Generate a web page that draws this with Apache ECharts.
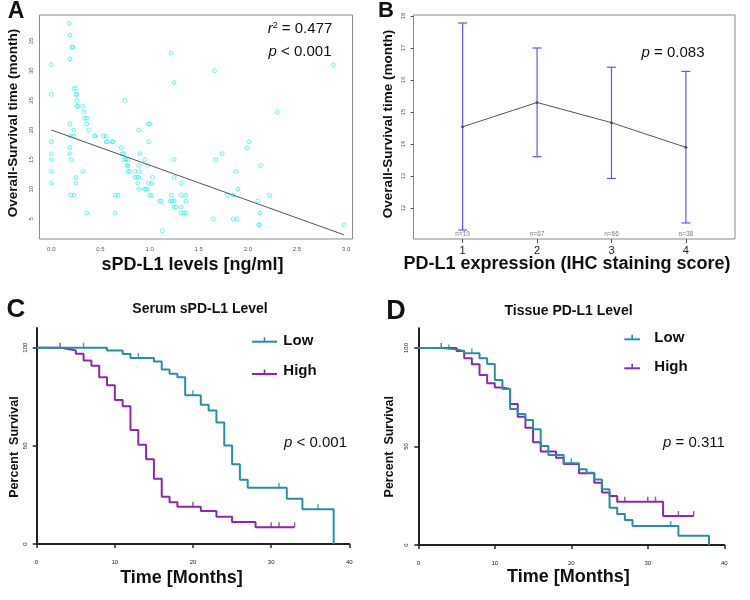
<!DOCTYPE html>
<html>
<head>
<meta charset="utf-8">
<script src="https://cdn.jsdelivr.net/npm/echarts@6/dist/echarts.min.js"></script>
<style>html,body{margin:0;padding:0;background:#fff}#c{width:750px;height:600px}</style>
</head>
<body>
<div id="c"></div>
<script>
// ---------- Panel A data ----------
const sPDL1 = [0,0,0,0,0,0,0,
 0.18,0.19,0.21,0.22,0.19,0.19,0.19,0.19,0.19,0.2,
 0.23,0.23,0.23,0.25,0.25,0.26,0.26,0.26,0.27,0.25,0.25,0.2,0.23,
 0.32,0.33,0.34,0.36,0.36,0.38,0.32,0.36,
 0.44,0.45,0.53,0.56,0.56,0.57,0.62,0.63,
 0.75,0.71,0.72,0.74,0.74,0.76,0.78,0.77,0.78,0.78,0.8,0.85,0.89,0.85,0.87,0.89,0.89,0.89,0.9,0.95,0.88,0.89,0.95,0.96,0.98,0.99,1.0,0.99,0.98,0.99,1.02,1.03,1.0,1.02,0.65,0.68,0.65,
 1.1,1.12,1.13,
 1.22,1.25,1.25,1.25,1.22,1.21,1.23,1.25,1.25,1.27,1.32,1.32,1.37,1.32,1.32,1.35,1.37,1.37,
 1.66,1.67,1.65,1.74,1.79,1.85,1.88,1.9,1.85,1.89,1.99,2.01,2.1,2.12,2.11,2.12,2.13,2.22,2.3,2.87,2.98];
const osMonths = [31,26,18,16,15,13,11,
 38,36,34,34,32,21,19,17,16,15,
 20,19,27,27,26,26,25,24,24,12,11,9,9,
 24,23,22,22,21,20,13,6,
 19,19,19,19,18,18,18,18,
 25,17,16,16,15,15,15,14,14,13,13,13,13,12,12,12,14,20,16,15,11,10,10,10,10,21,21,18,14,11,11,12,9,9,9,9,6,
 8,8,3,
 33,28,15,12,9,8,8,8,7,7,11,9,9,7,6,6,6,8,
 30,15,5,16,9,9,13,10,5,5,17,18,8,6,4,4,14,9,23,31,4];
const fitLine = [[0, 20.0], [2.98, 2.3]];
const xTicksA = [0, 0.5, 1.0, 1.5, 2.0, 2.5, 3.0];
const yTicksA = [5, 10, 15, 20, 25, 30, 35];

// ---------- Panel B data ----------
const ihcScore = [1, 2, 3, 4];
const meanOS = [14.54, 15.30, 14.67, 13.90];
const upperCI = [17.78, 17.00, 16.40, 16.27];
const lowerCI = [11.32, 13.61, 12.93, 11.54];
const nLabels = ['n=19', 'n=67', 'n=66', 'n=38'];
const yTicksB = [12, 13, 14, 15, 16, 17, 18];

// ---------- Panel C data (Serum sPD-L1) ----------
const cLow = [[0,100],[9,98.6],[11,96.8],[12,94.7],[15,93.0],[16,88.9],[17,86.7],[18,84.9],[19,75.7],[21,70.9],[22,68.0],[23,61.9],[24,50.2],[25,40.6],[26,32.7],[27,28.7],[32,23.0],[34,17.7],[38,0]];
const cLowCens = [[6,100],[13,94.7],[20,75.7],[31,28.7],[36,17.7]];
const cHigh = [[0,100],[3,99.3],[4,98.6],[5,96.9],[6,93.4],[7,90.8],[8,84.9],[9,80.8],[10,73.3],[11,70.2],[12,58.0],[13,50.5],[14,43.2],[15,33.2],[16,24.1],[17,21.3],[18,19.0],[21,16.8],[23,13.9],[25,11.2],[28,8.5],[33,8.5]];
const cHighCens = [[3,100],[20,19.0],[30,8.5],[31,8.5],[33,8.5]];

// ---------- Panel D data (Tissue PD-L1) ----------
const dLow = [[0,100],[3,99.3],[5,98.5],[6,97.3],[8,94.8],[9,91.9],[10,83.8],[11,79.2],[12,69.0],[13,66.5],[14,63.5],[15,58.7],[16,50.3],[17,45.7],[19,41.5],[21,38.4],[22,36.7],[23,33.3],[24,28.3],[25,18.9],[26,15.7],[27,12.7],[28,9.6],[34,4.7],[38,0]];
const dLowCens = [[4,99.3],[7,97.3],[20,41.5],[33,9.6]];
const dHigh = [[0,100],[5,98.5],[6,94.8],[7,91.7],[8,86.3],[9,82.1],[10,79.9],[11,79.2],[12,71.6],[13,65.1],[14,59.5],[15,52.1],[16,47.4],[18,44.3],[19,41.1],[21,36.4],[23,31.6],[24,26.6],[25,24.9],[26,22.0],[32,14.7],[36,14.7]];
const dHighCens = [[3,100],[27,22.0],[30,22.0],[31,22.0],[34,14.7],[36,14.7]];
const kmXTicks = [0, 10, 20, 30, 40];
const kmYTicks = [0, 50, 100];

const FONT = '"Liberation Sans", Arial, sans-serif';
const TEAL = '#2a8fa6';
const PURPLE = '#8c28ad';
const CYAN = '#2af0f0';
const BLUE = '#5a5aff';

const chart = echarts.init(document.getElementById('c'), null, {renderer: 'canvas'});

function txt(text, x, y, size, opts) {
  opts = opts || {};
  return {
    type: 'text', x: x, y: y, rotation: opts.rot || 0, z: 100,
    style: {
      text: text, fontFamily: FONT, fontSize: size, fontWeight: opts.bold ? 'bold' : 'normal',
      fill: opts.color || '#111', align: opts.align || 'center', verticalAlign: 'middle',
      rich: opts.rich
    }
  };
}
const pRich = {
  i: {fontStyle: 'italic', fontFamily: FONT, fontSize: 15, fill: '#111'},
  s: {fontFamily: FONT, fontSize: 9, verticalAlign: 'top', fill: '#111'},
  n: {fontFamily: FONT, fontSize: 15, fill: '#111'}
};
function legendItem(x1, x2, y, ty, tx, color, label) {
  const mid = (x1 + x2) / 2;
  return [
    {type: 'line', z: 100, shape: {x1: x1, y1: y, x2: x2, y2: y}, style: {stroke: color, lineWidth: 2}},
    {type: 'line', z: 100, shape: {x1: mid, y1: y, x2: mid, y2: y - 4.5}, style: {stroke: color, lineWidth: 1.6}},
    txt(label, tx, ty, 15, {bold: true, align: 'left'})
  ];
}

const tickLbl = {fontFamily: FONT, fontSize: 6, color: '#556'};

const option = {
  animation: false,
  backgroundColor: '#fff',
  grid: [
    {left: 39.5, top: 15, width: 313, height: 224, show: true, borderColor: '#8a8a8a', borderWidth: 1},
    {left: 413.5, top: 15, width: 321.5, height: 224, show: true, borderColor: '#8a8a8a', borderWidth: 1},
    {left: 36.7, top: 328, width: 312.6, height: 216},
    {left: 418.3, top: 328.3, width: 306, height: 216.7}
  ],
  xAxis: [
    {gridIndex: 0, type: 'value', min: -0.12, max: 3.065, axisLine: {show: false}, axisTick: {show: false}, splitLine: {show: false},
     axisLabel: Object.assign({customValues: xTicksA, margin: 7, formatter: v => v.toFixed(1)}, tickLbl)},
    {gridIndex: 1, type: 'value', min: 0.34, max: 4.66, axisLine: {show: false}, splitLine: {show: false},
     axisTick: {show: true, customValues: ihcScore, length: 4, lineStyle: {color: '#555', width: 1}},
     axisLabel: {customValues: ihcScore, margin: 6, fontFamily: FONT, fontSize: 11, color: '#222'}},
    {gridIndex: 2, type: 'value', min: 0, max: 40, interval: 10, splitLine: {show: false},
     axisLine: {show: true, lineStyle: {color: '#222', width: 2}},
     axisTick: {show: true, customValues: kmXTicks, length: 4, lineStyle: {color: '#222', width: 1.5}},
     axisLabel: {customValues: kmXTicks, margin: 15, fontFamily: FONT, fontSize: 6, color: '#222'}},
    {gridIndex: 3, type: 'value', min: 0, max: 40, interval: 10, splitLine: {show: false},
     axisLine: {show: true, lineStyle: {color: '#222', width: 2}},
     axisTick: {show: true, customValues: kmXTicks, length: 4, lineStyle: {color: '#222', width: 1.5}},
     axisLabel: {customValues: kmXTicks, margin: 15, fontFamily: FONT, fontSize: 6, color: '#222'}}
  ],
  yAxis: [
    {gridIndex: 0, type: 'value', min: 1.6, max: 39.4, axisLine: {show: false}, axisTick: {show: false}, splitLine: {show: false},
     axisLabel: Object.assign({customValues: yTicksA, margin: 5, rotate: 90}, tickLbl)},
    {gridIndex: 1, type: 'value', min: 11.04, max: 18.03, axisLine: {show: false}, splitLine: {show: false},
     axisTick: {show: true, customValues: yTicksB, length: 3, lineStyle: {color: '#555', width: 1}},
     axisLabel: Object.assign({customValues: yTicksB, margin: 7, rotate: 90}, tickLbl)},
    {gridIndex: 2, type: 'value', min: 0, max: 110, splitLine: {show: false},
     axisLine: {show: true, lineStyle: {color: '#222', width: 2}},
     axisTick: {show: true, customValues: kmYTicks, length: 4, lineStyle: {color: '#222', width: 1.5}},
     axisLabel: {customValues: kmYTicks, margin: 8, rotate: 90, fontFamily: FONT, fontSize: 6, color: '#222'}},
    {gridIndex: 3, type: 'value', min: 0, max: 110, splitLine: {show: false},
     axisLine: {show: true, lineStyle: {color: '#222', width: 2}},
     axisTick: {show: true, customValues: kmYTicks, length: 4, lineStyle: {color: '#222', width: 1.5}},
     axisLabel: {customValues: kmYTicks, margin: 9, rotate: 90, fontFamily: FONT, fontSize: 6, color: '#222'}}
  ],
  series: [
    // Panel A
    {type: 'scatter', xAxisIndex: 0, yAxisIndex: 0, symbol: 'circle', symbolSize: 3.8,
     itemStyle: {color: 'rgba(0,0,0,0)', borderColor: CYAN, borderWidth: 0.9},
     data: sPDL1.map((x, i) => [x, osMonths[i]])},
    {type: 'line', xAxisIndex: 0, yAxisIndex: 0, data: fitLine, showSymbol: false,
     lineStyle: {color: '#555', width: 1}},
    // Panel B
    {type: 'custom', xAxisIndex: 1, yAxisIndex: 1,
     data: ihcScore.map((g, i) => [g, lowerCI[i], upperCI[i]]),
     encode: {x: 0, y: [1, 2]},
     renderItem: function (params, api) {
       const x = api.value(0);
       const top = api.coord([x, api.value(2)]);
       const bot = api.coord([x, api.value(1)]);
       const w = 4.5, st = {stroke: BLUE, lineWidth: 1.2};
       return {type: 'group', children: [
         {type: 'line', shape: {x1: top[0], y1: top[1], x2: bot[0], y2: bot[1]}, style: st},
         {type: 'line', shape: {x1: top[0] - w, y1: top[1], x2: top[0] + w, y2: top[1]}, style: st},
         {type: 'line', shape: {x1: bot[0] - w, y1: bot[1], x2: bot[0] + w, y2: bot[1]}, style: st}
       ]};
     }},
    {type: 'line', xAxisIndex: 1, yAxisIndex: 1, z: 5, data: ihcScore.map((g, i) => [g, meanOS[i]]),
     symbol: 'circle', symbolSize: 3, showSymbol: true,
     itemStyle: {color: '#555'}, lineStyle: {color: '#555', width: 1}},
    {type: 'scatter', xAxisIndex: 1, yAxisIndex: 1, symbolSize: 0,
     data: ihcScore.map((g, i) => [g, 11.04]),
     label: {show: true, position: 'top', distance: 1, formatter: p => nLabels[p.dataIndex],
             fontFamily: FONT, fontSize: 6.5, color: '#555'}},
    // Panel C
    {type: 'line', xAxisIndex: 2, yAxisIndex: 2, step: 'end', data: cHigh, showSymbol: false,
     lineStyle: {color: PURPLE, width: 2}},
    {type: 'line', xAxisIndex: 2, yAxisIndex: 2, step: 'end', data: cLow, showSymbol: false,
     lineStyle: {color: TEAL, width: 2}},
    {type: 'scatter', xAxisIndex: 2, yAxisIndex: 2, data: cHighCens, symbol: 'rect', symbolSize: [1.5, 5], symbolOffset: [0, -2.5],
     itemStyle: {color: PURPLE}},
    {type: 'scatter', xAxisIndex: 2, yAxisIndex: 2, data: cLowCens, symbol: 'rect', symbolSize: [1.5, 5], symbolOffset: [0, -2.5],
     itemStyle: {color: TEAL}},
    // Panel D
    {type: 'line', xAxisIndex: 3, yAxisIndex: 3, step: 'end', data: dHigh, showSymbol: false,
     lineStyle: {color: PURPLE, width: 2}},
    {type: 'line', xAxisIndex: 3, yAxisIndex: 3, step: 'end', data: dLow, showSymbol: false,
     lineStyle: {color: TEAL, width: 2}},
    {type: 'scatter', xAxisIndex: 3, yAxisIndex: 3, data: dHighCens, symbol: 'rect', symbolSize: [1.5, 5], symbolOffset: [0, -2.5],
     itemStyle: {color: PURPLE}},
    {type: 'scatter', xAxisIndex: 3, yAxisIndex: 3, data: dLowCens, symbol: 'rect', symbolSize: [1.5, 5], symbolOffset: [0, -2.5],
     itemStyle: {color: TEAL}}
  ],
  graphic: [].concat(
    [
      // panel letters
      txt('A', 16, 12, 23, {bold: true}),
      txt('B', 386, 11, 22, {bold: true}),
      txt('C', 16, 310, 26, {bold: true}),
      txt('D', 396, 311.5, 27, {bold: true}),
      // panel A texts
      txt('{i|r}{s|2}{n| = 0.477}', 300, 29, 15, {rich: pRich}),
      txt('{i|p}{n| < 0.001}', 300, 52, 15, {rich: pRich}),
      txt('Overall-Survival time (month)', 13, 123, 13.5, {bold: true, rot: Math.PI / 2}),
      txt('sPD-L1 levels [ng/ml]', 192.5, 265, 18, {bold: true}),
      // panel B texts
      txt('{i|p}{n| = 0.083}', 673, 53, 15, {rich: pRich}),
      txt('Overall-Survival time (month)', 388, 124, 13.5, {bold: true, rot: Math.PI / 2}),
      txt('PD-L1 expression (IHC staining score)', 567, 264, 18, {bold: true}),
      // panel C texts
      txt('Serum sPD-L1 Level', 200, 309.5, 14, {bold: true}),
      txt('{i|p}{n| < 0.001}', 315.5, 443, 15, {rich: pRich}),
      txt('Percent  Survival', 14.7, 447, 12.5, {bold: true, rot: Math.PI / 2}),
      txt('Time [Months]', 181.5, 578, 18, {bold: true}),
      // panel D texts
      txt('Tissue PD-L1 Level', 568.5, 310.7, 14, {bold: true}),
      txt('{i|p}{n| = 0.311}', 694, 443.3, 15, {rich: pRich}),
      txt('Percent  Survival', 389.7, 446.7, 12.5, {bold: true, rot: Math.PI / 2}),
      txt('Time [Months]', 568.3, 577, 18, {bold: true})
    ],
    legendItem(252, 277, 341.7, 341.3, 283.3, TEAL, 'Low'),
    legendItem(252, 277, 374, 371, 283.3, PURPLE, 'High'),
    legendItem(624.3, 640, 339.3, 338.3, 654.3, TEAL, 'Low'),
    legendItem(624.3, 640, 368.3, 367.3, 654.3, PURPLE, 'High')
  )
};
chart.setOption(option);
</script>
</body>
</html>
